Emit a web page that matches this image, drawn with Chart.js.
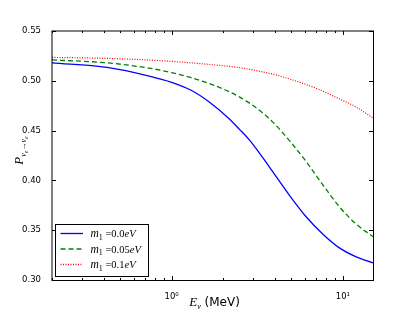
<!DOCTYPE html>
<html>
<head>
<meta charset="utf-8">
<script src="https://cdn.jsdelivr.net/npm/chart.js@4/dist/chart.umd.min.js"></script>
<style>
  html, body { margin: 0; padding: 0; background: #fff; }
  #wrap { width: 415px; height: 312px; }
</style>
</head>
<body>
<div id="wrap"><canvas id="myChart" width="415" height="312"></canvas></div>
<script>
// energies (MeV) and survival probabilities
const energies = [0.2, 0.42, 0.75, 1.0, 1.3, 1.65, 2.15, 2.5, 2.85, 3.1, 3.6, 3.9, 4.9, 6.1, 7.6, 9.5, 11.8, 15];
const probM0   = [0.518, 0.5135, 0.5045, 0.4985, 0.4905, 0.479, 0.4625, 0.451, 0.4405, 0.4325, 0.417, 0.4085, 0.3845, 0.3635, 0.3465, 0.3325, 0.3237, 0.3172];
const probM005 = [0.521, 0.518, 0.5125, 0.5082, 0.5031, 0.4974, 0.4894, 0.4836, 0.4776, 0.4732, 0.4641, 0.4585, 0.4395, 0.419, 0.396, 0.374, 0.357, 0.3435];
const probM01  = [0.5235, 0.5225, 0.5208, 0.5195, 0.518, 0.5165, 0.5145, 0.5132, 0.5115, 0.5103, 0.508, 0.5068, 0.5017, 0.4963, 0.4898, 0.482, 0.4742, 0.4627];

const yTicks = [0.30, 0.35, 0.40, 0.45, 0.50, 0.55];
const xTicks = [0.2, 0.3, 0.4, 0.5, 0.6, 0.7, 0.8, 0.9, 1, 2, 3, 4, 5, 6, 7, 8, 9, 10];
const xMajorLabels = { 1: "10\u2070", 10: "10\u00b9" };

const legendEntries = [
  { value: "0.0",  color: "#0000ff", dash: [] },
  { value: "0.05", color: "#008000", dash: [5, 3] },
  { value: "0.1",  color: "#ff0000", dash: [1, 1.5] }
];

const toPoints = (ys) => energies.map((e, i) => ({ x: e, y: ys[i] }));

const serif = "'Liberation Serif', 'DejaVu Serif', serif";
const sans = "'DejaVu Sans', sans-serif";

// draw a list of text runs [text, font, dy] starting at x,y; returns end x
function drawRuns(ctx, runs, x, y) {
  runs.forEach(([txt, font, dy]) => {
    ctx.font = font;
    ctx.fillText(txt, x, y + (dy || 0));
    x += ctx.measureText(txt).width;
  });
  return x;
}
function runsWidth(ctx, runs) {
  let w = 0;
  runs.forEach(([txt, font]) => { ctx.font = font; w += ctx.measureText(txt).width; });
  return w;
}

const mplFrame = {
  id: "mplFrame",
  afterDraw(chart) {
    const { ctx, chartArea: a, scales } = chart;
    ctx.save();
    ctx.strokeStyle = "#000";
    ctx.lineWidth = 1;

    // inward ticks
    ctx.beginPath();
    scales.y.ticks.forEach(t => {
      const py = Math.round(scales.y.getPixelForValue(t.value)) + 0.5;
      ctx.moveTo(a.left, py); ctx.lineTo(a.left + 4, py);
      ctx.moveTo(a.right, py); ctx.lineTo(a.right - 4, py);
    });
    scales.x.ticks.forEach(t => {
      const px = Math.round(scales.x.getPixelForValue(t.value)) + 0.5;
      const len = xMajorLabels[t.value] ? 4 : 2;
      ctx.moveTo(px, a.bottom); ctx.lineTo(px, a.bottom - len);
      ctx.moveTo(px, a.top); ctx.lineTo(px, a.top + len);
    });
    ctx.stroke();

    // spines
    ctx.strokeRect(a.left, a.top, a.right - a.left + 0.5, a.bottom - a.top + 0.5);

    // legend box
    const bx = 55, by = 224, bw = 93, bh = 52;
    ctx.fillStyle = "#fff";
    ctx.fillRect(bx, by, bw, bh);
    ctx.strokeRect(bx + 0.5, by + 0.5, bw, bh);
    legendEntries.forEach((en, i) => {
      const ly = 233.5 + i * 15.5;
      ctx.beginPath();
      ctx.strokeStyle = en.color;
      ctx.lineWidth = 1.3;
      ctx.setLineDash(en.dash);
      ctx.moveTo(60.5, ly); ctx.lineTo(83, ly);
      ctx.stroke();
      ctx.setLineDash([]);
      ctx.fillStyle = "#000";
      ctx.textBaseline = "alphabetic";
      drawRuns(ctx, [
        ["m", "italic 11.5px " + serif],
        ["1", "8px " + serif, 2.5],
        [" =" + en.value, "10.5px " + serif],
        ["eV", "italic 10.5px " + serif]
      ], 90.5, ly + 3.5);
    });

    // x axis title
    ctx.fillStyle = "#000";
    const xRuns = [
      ["E", "italic 13px " + serif],
      ["\u03bd", "italic 8px " + serif, 2.5],
      [" (MeV)", "12px " + sans]
    ];
    const xw = runsWidth(ctx, xRuns);
    drawRuns(ctx, xRuns, (a.left + a.right) / 2 - xw / 2 + 2, 306);

    // y axis title, rotated
    const yRuns = [
      ["P", "italic 13px " + serif],
      ["\u03bd", "italic 8px " + serif, 3],
      ["e", "italic 6px " + serif, 5],
      ["\u2192", "8px " + serif, 3],
      ["\u03bd", "italic 8px " + serif, 3],
      ["e", "italic 6px " + serif, 5]
    ];
    const yw = runsWidth(ctx, yRuns);
    ctx.translate(23, (a.top + a.bottom) / 2 - 5);
    ctx.rotate(-Math.PI / 2);
    drawRuns(ctx, yRuns, -yw / 2, 0);
    ctx.restore();
  }
};

new Chart(document.getElementById("myChart").getContext("2d"), {
  type: "line",
  data: {
    datasets: [
      { label: "m1=0.0eV", data: toPoints(probM0), borderColor: "#0000ff", borderWidth: 1.3, pointRadius: 0, cubicInterpolationMode: "monotone" },
      { label: "m1=0.05eV", data: toPoints(probM005), borderColor: "#008000", borderWidth: 1.3, borderDash: [5, 3], pointRadius: 0, cubicInterpolationMode: "monotone" },
      { label: "m1=0.1eV", data: toPoints(probM01), borderColor: "#ff0000", borderWidth: 1.2, borderDash: [1, 1.5], pointRadius: 0, cubicInterpolationMode: "monotone" }
    ]
  },
  options: {
    responsive: false,
    animation: false,
    layout: { padding: { top: 31, right: 42, left: 0, bottom: 0 } },
    plugins: {
      legend: { display: false },
      tooltip: { enabled: false }
    },
    scales: {
      x: {
        type: "logarithmic",
        min: 0.2,
        max: 15,
        afterBuildTicks: (s) => { s.ticks = xTicks.map(v => ({ value: v })); },
        afterFit: (s) => { s.height = 32; },
        grid: { display: false },
        border: { display: false },
        ticks: {
          autoSkip: false,
          maxRotation: 0,
          padding: 4,
          color: "#000",
          font: { family: "DejaVu Sans", size: 8.5 },
          callback: (v) => xMajorLabels[v] || ""
        }
      },
      y: {
        min: 0.30,
        max: 0.55,
        afterBuildTicks: (s) => { s.ticks = yTicks.map(v => ({ value: v })); },
        afterFit: (s) => { s.width = 52; },
        grid: { display: false },
        border: { display: false },
        ticks: {
          padding: 3,
          color: "#000",
          font: { family: "DejaVu Sans", size: 8.5 },
          callback: (v) => v.toFixed(2)
        }
      }
    }
  },
  plugins: [mplFrame]
});
</script>
</body>
</html>
